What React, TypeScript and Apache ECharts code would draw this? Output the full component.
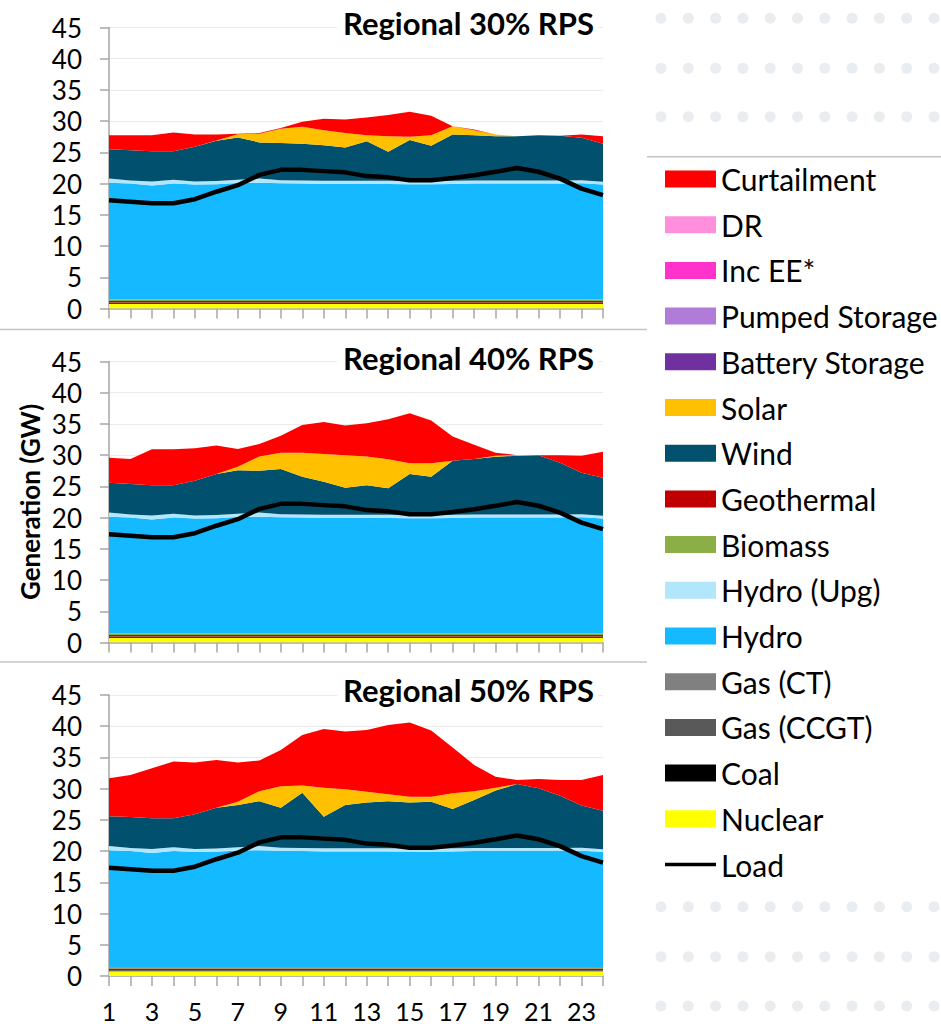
import React, { useEffect, useRef } from "react";
import * as echarts from "echarts";

const hours = ["1","2","3","4","5","6","7","8","9","10","11","12","13","14","15","16","17","18","19","20","21","22","23","24"];
const yTicks = [0, 5, 10, 15, 20, 25, 30, 35, 40, 45];
const panelTitles = ["Regional 30% RPS", "Regional 40% RPS", "Regional 50% RPS"];

// shared layers (GW)
const nuclear = [0.75,0.75,0.75,0.75,0.75,0.75,0.75,0.75,0.75,0.75,0.75,0.75,0.75,0.75,0.75,0.75,0.75,0.75,0.75,0.75,0.75,0.75,0.75,0.75];
const coal = [0.15,0.15,0.15,0.15,0.15,0.15,0.15,0.15,0.15,0.15,0.15,0.15,0.15,0.15,0.15,0.15,0.15,0.15,0.15,0.15,0.15,0.15,0.15,0.15];
const gasCCGT = [0.05,0.05,0.05,0.05,0.05,0.05,0.05,0.05,0.05,0.05,0.05,0.05,0.05,0.05,0.05,0.05,0.05,0.05,0.05,0.05,0.05,0.05,0.05,0.05];
const gasCT = [0,0,0,0,0,0,0,0,0,0,0,0,0,0,0,0,0,0,0,0,0,0,0,0];
const geothermal = [0.25,0.25,0.25,0.25,0.25,0.25,0.25,0.25,0.25,0.25,0.25,0.25,0.25,0.25,0.25,0.25,0.25,0.25,0.25,0.25,0.25,0.25,0.25,0.25];
const biomass = [0.25,0.25,0.25,0.25,0.25,0.25,0.25,0.25,0.25,0.25,0.25,0.25,0.25,0.25,0.25,0.25,0.25,0.25,0.25,0.25,0.25,0.25,0.25,0.25];
const hydro = [18.7,18.55,18.25,18.55,18.4,18.45,18.65,18.7,18.6,18.55,18.5,18.5,18.5,18.5,18.45,18.45,18.5,18.55,18.55,18.55,18.55,18.55,18.6,18.4];
const hydroUpg = [0.65,0.5,0.65,0.6,0.5,0.5,0.5,0.65,0.5,0.5,0.5,0.5,0.5,0.5,0.5,0.5,0.5,0.5,0.5,0.5,0.5,0.5,0.5,0.45];
const batteryStorage = [0,0,0,0,0,0,0,0,0,0,0,0,0,0,0,0,0,0,0,0,0,0,0,0];
const pumpedStorage = [0,0,0,0,0,0,0,0,0,0,0,0,0,0,0,0,0,0,0,0,0,0,0,0];
const incEE = [0,0,0,0,0,0,0,0,0,0,0,0,0,0,0,0,0,0,0,0,0,0,0,0];
const dr = [0,0,0,0,0,0,0,0,0,0,0,0,0,0,0,0,0,0,0,0,0,0,0,0];
const load = [17.35,17.1,16.85,16.85,17.5,18.7,19.75,21.4,22.2,22.2,22.0,21.8,21.2,21.0,20.55,20.55,20.9,21.35,21.9,22.5,21.9,20.8,19.2,18.15];

// panel-specific layers
const wind30 = [4.7,4.85,4.85,4.6,5.55,6.45,6.8,5.8,5.95,5.9,5.7,5.35,6.35,4.65,6.6,5.65,7.4,7.25,7.1,7.1,7.25,7.15,6.8,6.1];
const solar30 = [0,0,0,0,0,0.05,0.5,1.4,2.3,2.7,2.4,2.3,0.95,2.5,0.5,1.7,1.35,0.8,0.25,0,0,0,0,0];
const curtail30 = [2.25,2.4,2.55,3.0,1.95,0.95,0.1,0.1,0.1,0.8,1.85,2.15,2.85,3.4,4.0,3.1,0,0.1,0,0,0,0,0.5,1.2];

const wind40 = [4.8,4.9,4.85,4.6,5.55,6.6,7.0,6.7,7.25,6.05,5.3,4.35,4.75,4.25,6.6,6.15,8.65,8.9,9.25,9.4,9.5,8.3,6.65,6.1];
const solar40 = [0,0,0,0,0,0,0.55,2.3,2.6,3.85,4.45,5.2,4.6,4.65,1.7,2.15,0,0,0.15,0.1,0,0,0,0];
const curtail40 = [4.0,4.0,5.75,5.75,5.2,4.55,2.85,2.0,2.7,4.45,5.1,4.75,5.3,6.4,8.0,6.85,3.9,2.25,0.5,0,0,1.2,2.7,4.15];

const wind50 = [4.8,4.95,4.9,4.65,5.55,6.55,6.8,7.2,6.4,8.85,5.05,6.95,7.35,7.55,7.4,7.5,6.3,7.7,9.2,10.25,9.55,8.35,6.75,6.15];
const solar50 = [0,0,0,0,0,0,0.5,1.6,3.45,1.15,4.65,2.5,1.7,1.1,0.9,0.8,2.5,1.4,0.45,0,0,0,0,0];
const curtail50 = [6.05,6.75,8.0,9.1,8.3,7.65,6.3,4.9,5.8,8.1,9.4,9.25,9.9,11.1,11.9,10.6,7.35,4.2,1.75,0.65,1.5,2.55,4.1,5.75];

const windByPanel = [wind30, wind40, wind50];
const solarByPanel = [solar30, solar40, solar50];
const curtailByPanel = [curtail30, curtail40, curtail50];

const COLORS: Record<string, string> = {
  "Curtailment": "#FF0000",
  "DR": "#FF8FDC",
  "Inc EE*": "#FF33CC",
  "Pumped Storage": "#B07CD8",
  "Battery Storage": "#7030A0",
  "Solar": "#FFC000",
  "Wind": "#00506E",
  "Geothermal": "#C00000",
  "Biomass": "#8CAE47",
  "Hydro (Upg)": "#B2E6FA",
  "Hydro": "#14B9FF",
  "Gas (CT)": "#808080",
  "Gas (CCGT)": "#595959",
  "Coal": "#000000",
  "Nuclear": "#FFFF00",
};

const legendOrder = ["Curtailment","DR","Inc EE*","Pumped Storage","Battery Storage","Solar","Wind","Geothermal","Biomass","Hydro (Upg)","Hydro","Gas (CT)","Gas (CCGT)","Coal","Nuclear"];

const FONT = "Lato, 'Open Sans', sans-serif";
const GRID_TOPS = [27.5, 361.5, 695];
const GRID_H = 281;
const GRID_LEFT = 109;
const GRID_W = 494;
const TITLE_Y = [23, 358, 690];

export default function App() {
  const ref = useRef<HTMLDivElement>(null);
  useEffect(() => {
    if (!ref.current) return;
    const chart = echarts.init(ref.current, undefined, { renderer: "svg" });

    const grids = GRID_TOPS.map((t) => ({ left: GRID_LEFT, top: t, width: GRID_W, height: GRID_H, containLabel: false }));
    const xAxes = GRID_TOPS.map((_, i) => ({
      type: "category",
      gridIndex: i,
      data: hours,
      boundaryGap: false,
      axisLine: { show: true, lineStyle: { color: "#A6A6A6", width: 1.5 } },
      axisTick: { show: true, interval: 0, length: 10, lineStyle: { color: "#A6A6A6", width: 1.5 } },
      axisLabel: { show: i === 2, interval: 1, fontFamily: FONT, fontSize: 25, lineHeight: 25, color: "#000", margin: 22 },
      splitLine: { show: false },
    }));
    const yAxes = GRID_TOPS.map((_, i) => ({
      type: "value",
      gridIndex: i,
      min: 0,
      max: 45,
      interval: 5,
      axisLine: { show: true, lineStyle: { color: "#A6A6A6", width: 1.5 } },
      axisTick: { show: true, length: 9, lineStyle: { color: "#A6A6A6", width: 1.5 } },
      axisLabel: {
        fontFamily: FONT, fontSize: 26, color: "#000", margin: 27,
        formatter: (v: number) => (yTicks.includes(v) ? String(v) : ""),
      },
      splitLine: { show: true, lineStyle: { color: "#EBEBEB", width: 1 } },
    }));

    const series: any[] = [];
    for (let p = 0; p < 3; p++) {
      const layers: [string, number[]][] = [
        ["Nuclear", nuclear],
        ["Coal", coal],
        ["Gas (CCGT)", gasCCGT],
        ["Gas (CT)", gasCT],
        ["Geothermal", geothermal],
        ["Biomass", biomass],
        ["Hydro", hydro],
        ["Hydro (Upg)", hydroUpg],
        ["Wind", windByPanel[p]],
        ["Solar", solarByPanel[p]],
        ["Battery Storage", batteryStorage],
        ["Pumped Storage", pumpedStorage],
        ["Inc EE*", incEE],
        ["DR", dr],
        ["Curtailment", curtailByPanel[p]],
      ];
      layers.forEach(([name, data]) => {
        series.push({
          type: "line",
          name,
          xAxisIndex: p,
          yAxisIndex: p,
          stack: "s" + p,
          data,
          symbol: "none",
          showSymbol: false,
          color: COLORS[name],
          lineStyle: { width: 0, color: COLORS[name] },
          areaStyle: { color: COLORS[name], opacity: 1 },
          itemStyle: { color: COLORS[name] },
          emphasis: { disabled: true },
          silent: true,
          z: 2,
        });
      });
      series.push({
        type: "line",
        name: "Load",
        xAxisIndex: p,
        yAxisIndex: p,
        data: load,
        symbol: "none",
        showSymbol: false,
        color: "#000",
        lineStyle: { color: "#000", width: 4.5 },
        itemStyle: { color: "#000" },
        emphasis: { disabled: true },
        silent: true,
        z: 5,
      });
    }

    const graphics: any[] = [];
    // dotted background
    const dotXs = [661, 688.3, 715.6, 742.9, 770.2, 797.5, 824.8, 852.1, 879.4, 906.7, 934];
    const dotYs = [18.3, 68.3, 116.7, 906.7, 956.7, 1006];
    dotYs.forEach((dy) => dotXs.forEach((dx) => {
      graphics.push({ type: "circle", shape: { cx: dx, cy: dy, r: 5.5 }, style: { fill: "#E9EDF0" }, silent: true, z: -1 });
    }));
    // separators
    graphics.push({ type: "line", shape: { x1: 0, y1: 329.5, x2: 647, y2: 329.5 }, style: { stroke: "#C4C4C4", lineWidth: 1.5 }, z: 1 });
    graphics.push({ type: "line", shape: { x1: 0, y1: 662, x2: 647, y2: 662 }, style: { stroke: "#C4C4C4", lineWidth: 1.5 }, z: 1 });
    graphics.push({ type: "line", shape: { x1: 647, y1: 156.7, x2: 941, y2: 156.7 }, style: { stroke: "#C4C4C4", lineWidth: 1.5 }, z: 1 });
    // panel titles
    panelTitles.forEach((t, i) => {
      graphics.push({
        type: "text",
        x: 598,
        y: TITLE_Y[i],
        z: 100,
        style: {
          text: t,
          align: "right",
          verticalAlign: "middle",
          font: `bold 31px ${FONT}`,
          fill: "#000",
          backgroundColor: "#fff",
          padding: [2, 4, 2, 6],
        },
      });
    });
    // y axis title
    graphics.push({
      type: "text",
      x: 30,
      y: 502,
      rotation: Math.PI / 2,
      z: 100,
      style: {
        text: "Generation (GW)",
        align: "center",
        verticalAlign: "middle",
        font: `bold 26px ${FONT}`,
        fill: "#000",
      },
    });

    const legendData: any[] = legendOrder.map((n) => ({ name: n, icon: "rect", itemStyle: { borderWidth: 0 } }));
    legendData.push({ name: "Load", icon: "path://M0,0H55V4H0Z", itemStyle: { borderWidth: 0 } });

    chart.setOption({
      animation: false,
      backgroundColor: "#fff",
      grid: grids,
      xAxis: xAxes,
      yAxis: yAxes,
      series,
      legend: {
        show: true,
        orient: "vertical",
        left: 665,
        top: 164,
        padding: 0,
        itemWidth: 51,
        itemHeight: 17,
        itemGap: 15.7,
        selectedMode: false,
        symbolKeepAspect: true,
        data: legendData,
        textStyle: { fontFamily: FONT, fontSize: 30, color: "#000", lineHeight: 30 },
      },
      graphic: graphics,
    });

    return () => chart.dispose();
  }, []);

  return <div ref={ref} style={{ position: "absolute", left: 0, top: 0, width: 941, height: 1024 }} />;
}
